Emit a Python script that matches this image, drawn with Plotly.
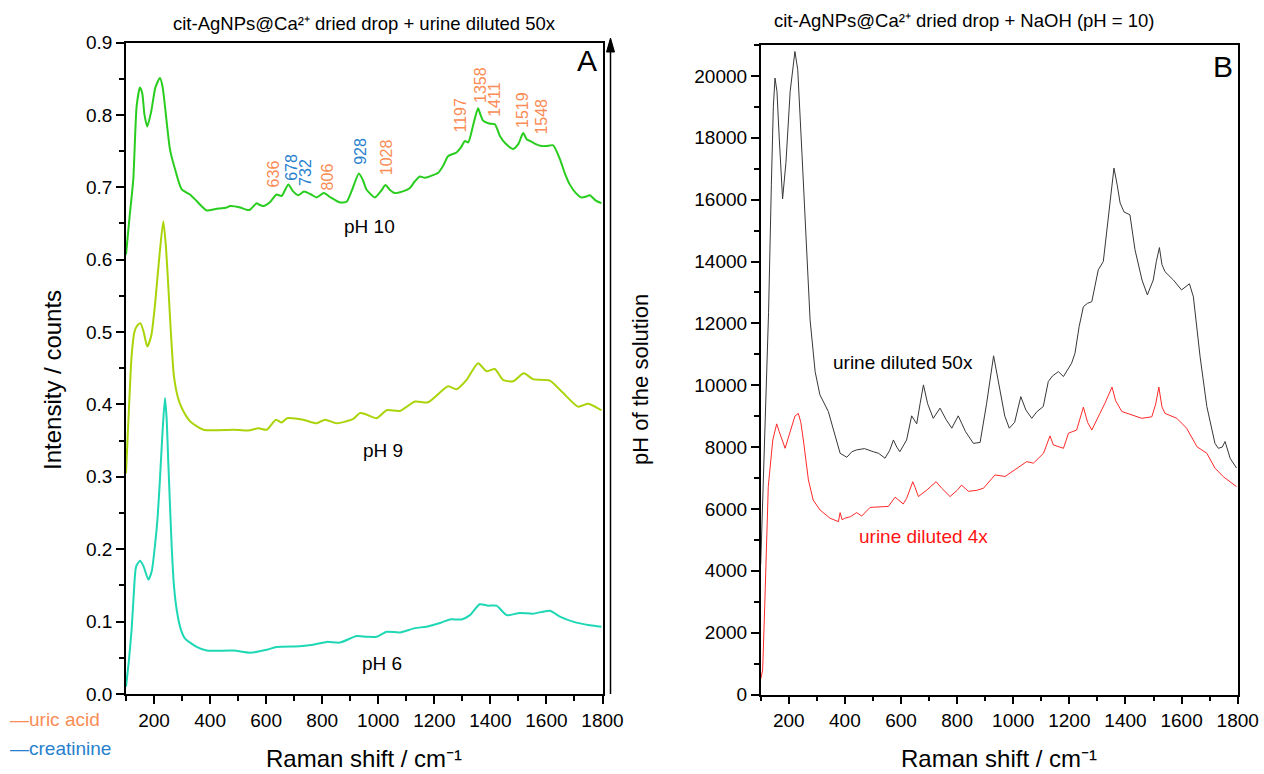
import plotly.graph_objects as go

# ---------------- Panel A: spectra at three pH values ----------------
ph10_shift = [100, 113, 126, 138, 150, 158, 166, 176, 190, 205, 221, 230, 239, 248, 257, 275, 299, 328, 352, 388,
              420, 459, 471, 507, 530, 542, 566, 575, 590, 615, 637, 655, 679, 695, 714, 735, 760, 780, 806, 830,
              863, 887, 905, 931, 945, 958, 988, 1010, 1026, 1040, 1059, 1085, 1113, 1130, 1148, 1165, 1184, 1214,
              1232, 1249, 1279, 1295, 1309, 1321, 1338, 1356, 1365, 1374, 1395, 1416, 1434, 1455, 1481, 1500, 1517,
              1530, 1541, 1560, 1582, 1600, 1624, 1648, 1665, 1683, 1705, 1725, 1740, 1755, 1775, 1796]
ph10_int = [0.607, 0.660, 0.711, 0.812, 0.838, 0.830, 0.800, 0.784, 0.805, 0.838, 0.851, 0.840, 0.812, 0.780, 0.752,
            0.725, 0.697, 0.690, 0.681, 0.668, 0.670, 0.672, 0.674, 0.672, 0.669, 0.669, 0.678, 0.676, 0.674, 0.680,
            0.690, 0.688, 0.704, 0.695, 0.689, 0.694, 0.690, 0.686, 0.692, 0.686, 0.679, 0.680, 0.695, 0.719, 0.710,
            0.697, 0.686, 0.695, 0.703, 0.697, 0.692, 0.694, 0.699, 0.708, 0.715, 0.713, 0.715, 0.720, 0.730, 0.743,
            0.748, 0.755, 0.764, 0.762, 0.785, 0.809, 0.800, 0.792, 0.788, 0.787, 0.771, 0.760, 0.753, 0.760, 0.775,
            0.766, 0.764, 0.760, 0.757, 0.757, 0.758, 0.739, 0.720, 0.704, 0.692, 0.686, 0.687, 0.689, 0.682, 0.678]

ph9_shift = [100, 110, 120, 130, 140, 152, 163, 176, 190, 203, 218, 233, 242, 251, 260, 271, 285, 299, 328, 376,
             483, 536, 572, 602, 635, 655, 675, 732, 780, 810, 851, 911, 934, 958, 994, 1030, 1077, 1131, 1178,
             1249, 1279, 1315, 1356, 1386, 1416, 1445, 1481, 1519, 1552, 1612, 1659, 1713, 1749, 1796]
ph9_int = [0.305, 0.390, 0.467, 0.500, 0.509, 0.512, 0.500, 0.480, 0.495, 0.536, 0.600, 0.653, 0.620, 0.563, 0.500,
           0.439, 0.410, 0.395, 0.377, 0.365, 0.365, 0.364, 0.367, 0.365, 0.379, 0.375, 0.381, 0.379, 0.374, 0.379,
           0.374, 0.380, 0.388, 0.386, 0.381, 0.392, 0.391, 0.404, 0.403, 0.425, 0.421, 0.434, 0.457, 0.446, 0.449,
           0.434, 0.432, 0.443, 0.435, 0.433, 0.416, 0.397, 0.401, 0.392]

ph6_shift = [100, 110, 120, 128, 136, 150, 162, 180, 192, 203, 212, 221, 230, 239, 245, 251, 257, 263, 271, 281,
             295, 310, 352, 388, 483, 542, 602, 637, 720, 768, 816, 863, 923, 958, 994, 1030, 1077, 1131, 1172,
             1220, 1255, 1297, 1327, 1362, 1392, 1422, 1458, 1505, 1552, 1612, 1648, 1695, 1755, 1796]
ph6_int = [0.010, 0.045, 0.089, 0.140, 0.176, 0.184, 0.177, 0.158, 0.170, 0.204, 0.240, 0.296, 0.360, 0.409, 0.380,
           0.319, 0.260, 0.204, 0.150, 0.116, 0.090, 0.077, 0.065, 0.060, 0.060, 0.057, 0.061, 0.065, 0.066, 0.068,
           0.072, 0.071, 0.080, 0.079, 0.079, 0.086, 0.085, 0.091, 0.093, 0.098, 0.103, 0.103, 0.109, 0.124, 0.122,
           0.122, 0.109, 0.112, 0.111, 0.115, 0.107, 0.100, 0.095, 0.093]

# Band assignments written above the pH 10 spectrum
band_labels = ["636", "678", "732", "806", "928", "1028", "1197", "1358", "1411", "1519", "1548"]
band_species = ["uric acid", "creatinine", "creatinine", "uric acid", "creatinine", "uric acid",
                "uric acid", "uric acid", "uric acid", "uric acid", "uric acid"]

# ---------------- Panel B: NaOH-treated drops ----------------
u50_shift = [100, 110, 120, 128, 138, 145, 151, 158, 166, 178, 190, 205, 222, 232, 247, 260, 276, 294, 311, 341,
             360, 383, 407, 425, 442, 470, 501, 520, 543, 560, 573, 585, 596, 620, 638, 656, 668, 680, 695, 715,
             739, 760, 781, 804, 830, 858, 882, 905, 930, 950, 970, 986, 1005, 1027, 1045, 1066, 1085, 1107, 1125,
             1140, 1161, 1179, 1195, 1208, 1220, 1235, 1250, 1265, 1280, 1293, 1303, 1321, 1339, 1350, 1359, 1370,
             1381, 1395, 1416, 1434, 1459, 1478, 1499, 1510, 1521, 1530, 1541, 1571, 1600, 1628, 1642, 1666, 1690,
             1719, 1731, 1745, 1755, 1773, 1796]
u50_int = [4200, 7000, 10500, 12340, 16500, 19000, 19930, 19500, 18000, 16025, 17200, 19500, 20790, 20200, 17500,
           15000, 12110, 10440, 9690, 9150, 8500, 7800, 7670, 7850, 7910, 7950, 7850, 7800, 7640, 7900, 8230, 8000,
           7850, 8230, 9010, 8750, 9400, 10010, 9400, 8930, 9260, 8900, 8610, 9010, 8500, 8120, 8150, 9400, 10950,
           10000, 9000, 8610, 8800, 9630, 9200, 8930, 9150, 9310, 10120, 10300, 10440, 10280, 10500, 10710, 11030,
           11900, 12540, 12650, 12700, 13300, 13730, 14000, 15450, 16300, 17020, 16500, 15890, 15600, 15510, 14380,
           13400, 12920, 13400, 14000, 14450, 13900, 13670, 13400, 13080, 13280, 12860, 10920, 9310, 8120, 7960,
           8000, 8180, 7640, 7320]

u4_shift = [100, 107, 115, 127, 143, 157, 166, 180, 187, 198, 210, 222, 234, 243, 252, 261, 270, 287, 311, 347,
            377, 383, 390, 400, 420, 442, 460, 490, 525, 555, 579, 608, 620, 642, 650, 662, 692, 725, 745, 775, 800,
            816, 840, 870, 894, 935, 971, 1012, 1048, 1072, 1108, 1131, 1143, 1179, 1197, 1226, 1250, 1265, 1280,
            1309, 1327, 1352, 1365, 1387, 1422, 1458, 1494, 1508, 1519, 1530, 1541, 1583, 1618, 1655, 1690, 1719,
            1749, 1796]
u4_int = [500, 790, 3060, 6720, 8230, 8750, 8500, 8100, 7960, 8290, 8660, 9000, 9090, 8800, 8230, 7500, 6940, 6290,
          5970, 5700, 5590, 5880, 5650, 5700, 5750, 5880, 5770, 6050, 6060, 6080, 6380, 6160, 6340, 6880, 6700, 6400,
          6610, 6880, 6670, 6400, 6600, 6770, 6570, 6600, 6670, 7100, 7050, 7320, 7530, 7480, 7800, 8360, 8070, 7960,
          8450, 8550, 9290, 8800, 8550, 9090, 9420, 9940, 9500, 9150, 9040, 8930, 8980, 9400, 9940, 9300, 9090, 8930,
          8610, 8010, 7800, 7320, 7040, 6720]

W, H = 1264, 774
FONT = "Arial, Liberation Sans, Helvetica, sans-serif"
ORANGE = "rgb(250,140,85)"
BLUE = "rgb(40,128,205)"


def px(x):
    return x / W


def py(y):
    return 1 - y / H


fig = go.Figure()
smooth = dict(shape="spline", smoothing=0.6)
fig.add_trace(go.Scatter(x=ph10_shift, y=ph10_int, mode="lines", name="pH 10",
                         line=dict(color="rgb(40,205,30)", width=2, **smooth), xaxis="x", yaxis="y"))
fig.add_trace(go.Scatter(x=ph9_shift, y=ph9_int, mode="lines", name="pH 9",
                         line=dict(color="rgb(170,212,10)", width=2, **smooth), xaxis="x", yaxis="y"))
fig.add_trace(go.Scatter(x=ph6_shift, y=ph6_int, mode="lines", name="pH 6",
                         line=dict(color="rgb(30,215,180)", width=2, **smooth), xaxis="x", yaxis="y"))
fig.add_trace(go.Scatter(x=u50_shift, y=u50_int, mode="lines", name="urine diluted 50x",
                         line=dict(color="rgb(55,55,55)", width=1), xaxis="x2", yaxis="y2"))
fig.add_trace(go.Scatter(x=u4_shift, y=u4_int, mode="lines", name="urine diluted 4x",
                         line=dict(color="rgb(255,40,40)", width=1), xaxis="x2", yaxis="y2"))

axis_common = dict(
    showline=True, linecolor="black", linewidth=1.6, mirror=True,
    ticks="outside", ticklen=8, tickwidth=1.5, tickcolor="black",
    showgrid=False, zeroline=False, automargin=False,
    tickfont=dict(family=FONT, size=19, color="black"),
)
xa = dict(axis_common, range=[100, 1800], tickvals=list(range(200, 1801, 200)),
          minor=dict(tickvals=list(range(100, 1801, 200)), ticks="outside", ticklen=5, tickwidth=1.5,
                     tickcolor="black"))

fig.update_layout(
    width=W, height=H, margin=dict(l=0, r=0, t=0, b=0),
    paper_bgcolor="white", plot_bgcolor="white", showlegend=False,
    font=dict(family=FONT, color="black"),
    xaxis=dict(xa, domain=[px(126), px(602.5)], anchor="y"),
    yaxis=dict(axis_common, domain=[py(694), py(42.5)], anchor="x", range=[0, 0.9], dtick=0.1,
               tickformat=".1f",
               minor=dict(dtick=0.05, ticks="outside", ticklen=5, tickwidth=1.5, tickcolor="black")),
    xaxis2=dict(xa, domain=[px(760.7), px(1237.7)], anchor="y2"),
    yaxis2=dict(axis_common, domain=[py(694.5), py(45)], anchor="x2", range=[0, 21000], dtick=2000,
                tick0=0, tickformat="d",
                minor=dict(dtick=1000, ticks="outside", ticklen=5, tickwidth=1.5, tickcolor="black")),
)

ann = []


def text(x, y, s, size=19, color="black", angle=0, xanchor="center"):
    ann.append(dict(x=px(x), y=py(y), xref="paper", yref="paper", text=s, showarrow=False,
                    font=dict(family=FONT, size=size, color=color), textangle=angle,
                    xanchor=xanchor, yanchor="middle"))


# panel titles and letters
text(364, 23, "cit-AgNPs@Ca\u00b2\u207a dried drop + urine diluted 50x", size=18.5)
text(964, 20, "cit-AgNPs@Ca\u00b2\u207a dried drop + NaOH (pH = 10)", size=18.5)
text(587, 60, "A", size=30)
text(1223, 66, "B", size=30)

# axis titles
text(364, 758, "Raman shift / cm\u207b\u00b9", size=24)
text(999, 758, "Raman shift / cm\u207b\u00b9", size=24)
text(52, 380, "Intensity / counts", size=24, angle=-90)
text(640, 380, "pH of the solution", size=22, angle=-90)

# curve labels
text(369, 227, "pH 10")
text(383, 451, "pH 9")
text(382, 663, "pH 6")
text(903, 362, "urine diluted 50x")
text(923, 536, "urine diluted 4x", color="rgb(255,20,20)")

# colour key for band assignments
text(8, 719, "\u2014uric acid", size=19, color=ORANGE, xanchor="left")
text(8, 748, "\u2014creatinine", size=19, color=BLUE, xanchor="left")

# band labels: (x in cm-1, y in counts) placement above the pH 10 curve
band_pos = [(625, 0.718), (688, 0.728), (738, 0.721), (818, 0.714), (934, 0.750), (1030, 0.741),
            (1294, 0.800), (1362, 0.841), (1416, 0.822), (1517, 0.807), (1579, 0.797)]
for lab, sp, (bx, by) in zip(band_labels, band_species, band_pos):
    ann.append(dict(x=bx, y=by, xref="x", yref="y", text=lab, showarrow=False, textangle=-90,
                    font=dict(family=FONT, size=16, color=ORANGE if sp == "uric acid" else BLUE),
                    xanchor="center", yanchor="middle"))

fig.update_layout(annotations=ann)

# vertical arrow standing for the pH axis between the panels
ax_x = 610.5
fig.add_shape(type="line", xref="paper", yref="paper", x0=px(ax_x), x1=px(ax_x), y0=py(694), y1=py(50),
              line=dict(color="black", width=1.5))
fig.add_shape(type="path", xref="paper", yref="paper",
              path=f"M {px(ax_x - 4)},{py(52)} L {px(ax_x)},{py(38)} L {px(ax_x + 4)},{py(52)} Z",
              fillcolor="black", line=dict(color="black", width=1))

fig.write_html("out.html")
